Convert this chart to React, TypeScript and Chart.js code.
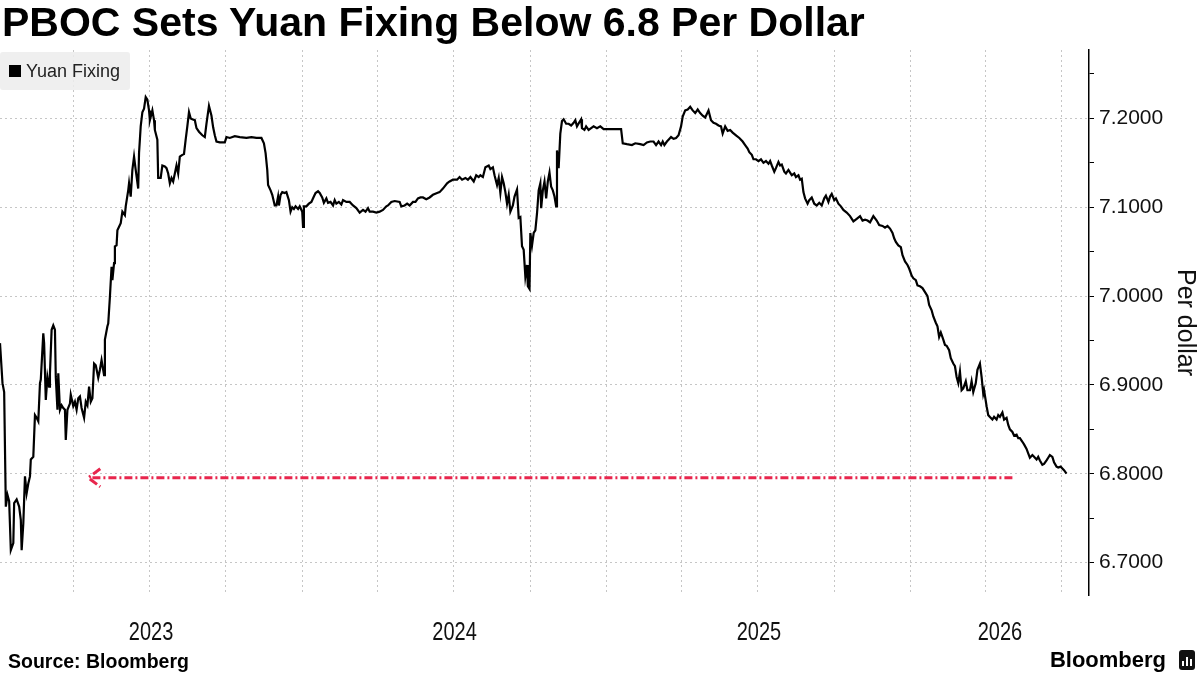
import React, { useEffect, useRef } from "react";
import { Chart, registerables } from "chart.js";

Chart.register(...registerables);

// USD/CNY daily fixing: [days since 2023-01-01, yuan per dollar]
const fixing2023: [number, number][] = [
  [2, 6.947], [5, 6.902], [7, 6.892], [9, 6.763], [11, 6.776], [13, 6.769], [15, 6.714], [18, 6.722],
  [19, 6.767], [22, 6.771], [25, 6.763], [27, 6.748], [28, 6.714], [30, 6.744], [32, 6.797], [34, 6.778],
  [36, 6.789], [38, 6.797], [39, 6.816], [42, 6.819], [44, 6.866], [46, 6.863], [48, 6.859], [50, 6.902],
  [51, 6.906], [54, 6.958], [55, 6.947], [57, 6.883], [59, 6.909], [61, 6.898], [62, 6.913], [64, 6.962],
  [66, 6.967], [68, 6.962], [69, 6.909], [71, 6.872], [72, 6.913], [74, 6.872], [76, 6.877], [78, 6.874],
  [80, 6.872], [81, 6.838], [83, 6.872], [86, 6.879], [87, 6.889], [90, 6.876], [92, 6.881], [94, 6.872],
  [96, 6.885], [98, 6.887], [100, 6.874], [103, 6.863], [105, 6.881], [107, 6.877], [109, 6.898], [111, 6.881],
  [113, 6.885], [115, 6.924], [117, 6.922], [120, 6.908], [122, 6.917], [124, 6.928], [127, 6.911], [128, 6.951],
  [131, 6.966], [132, 6.969], [134, 6.999], [136, 7.033], [137, 7.018], [139, 7.037], [140, 7.056], [142, 7.057],
  [143, 7.074], [145, 7.078], [147, 7.082], [149, 7.095], [152, 7.091], [153, 7.101], [156, 7.119], [157, 7.127],
  [159, 7.112], [161, 7.142], [163, 7.157], [165, 7.142], [168, 7.121], [169, 7.161], [171, 7.191], [173, 7.207],
  [175, 7.211], [177, 7.224], [179, 7.221], [181, 7.209], [182, 7.198], [185, 7.209], [187, 7.198], [188, 7.187],
  [191, 7.176], [192, 7.133], [195, 7.133], [197, 7.147], [200, 7.146], [202, 7.144], [204, 7.138], [206, 7.127],
  [208, 7.133], [210, 7.129], [212, 7.138], [214, 7.147], [216, 7.138], [218, 7.157], [221, 7.159], [223, 7.160],
  [225, 7.176], [227, 7.191], [229, 7.207], [231, 7.200], [233, 7.199], [236, 7.198], [238, 7.189], [241, 7.185],
  [245, 7.181], [248, 7.179], [250, 7.194], [253, 7.214], [256, 7.203], [258, 7.190], [260, 7.181], [262, 7.174],
  [266, 7.173], [272, 7.173], [274, 7.179], [278, 7.178], [284, 7.180], [290, 7.179], [298, 7.178], [304, 7.179],
  [310, 7.178], [316, 7.178], [319, 7.172], [321, 7.161], [323, 7.142], [324, 7.125], [327, 7.119], [329, 7.114],
  [332, 7.102], [334, 7.102], [336, 7.112], [337, 7.102], [339, 7.114], [341, 7.117], [344, 7.116], [346, 7.117],
  [349, 7.108], [351, 7.095], [353, 7.100], [355, 7.098], [357, 7.101], [360, 7.098], [362, 7.101],
];

const fixing2024: [number, number][] = [
  [365, 7.095], [366, 7.078], [367, 7.101], [370, 7.101], [373, 7.104], [376, 7.106], [379, 7.112], [381, 7.116],
  [384, 7.118], [386, 7.116], [389, 7.111], [391, 7.105], [394, 7.110], [396, 7.105], [399, 7.106], [402, 7.102],
  [404, 7.108], [406, 7.104], [409, 7.106], [412, 7.103], [414, 7.108], [418, 7.106], [422, 7.106], [426, 7.102],
  [430, 7.099], [434, 7.094], [438, 7.097], [441, 7.095], [444, 7.099], [446, 7.095], [450, 7.095], [454, 7.094],
  [458, 7.095], [462, 7.097], [466, 7.101], [468, 7.102], [472, 7.106], [476, 7.107], [482, 7.106], [484, 7.101],
  [488, 7.102], [491, 7.104], [494, 7.102], [498, 7.106], [501, 7.106], [504, 7.110], [507, 7.111], [510, 7.111],
  [514, 7.109], [518, 7.111], [522, 7.114], [527, 7.116], [530, 7.117], [534, 7.121], [539, 7.127], [542, 7.129],
  [546, 7.131], [551, 7.131], [554, 7.134], [557, 7.131], [561, 7.133], [564, 7.131], [567, 7.134], [571, 7.129],
  [574, 7.136], [577, 7.134], [579, 7.136], [582, 7.134], [585, 7.145], [589, 7.147], [591, 7.143], [594, 7.145],
  [596, 7.136], [599, 7.125], [601, 7.133], [603, 7.116], [605, 7.134], [607, 7.127], [609, 7.117], [611, 7.104],
  [613, 7.114], [615, 7.095], [618, 7.102], [620, 7.112], [623, 7.120], [625, 7.088], [627, 7.089], [629, 7.056],
  [631, 7.052], [633, 7.022], [635, 7.035], [636, 7.011], [638, 7.008], [639, 7.071], [641, 7.057], [643, 7.071],
  [645, 7.074], [647, 7.093], [649, 7.119], [651, 7.127], [652, 7.099], [654, 7.119], [656, 7.129], [658, 7.110],
  [660, 7.129], [662, 7.139], [664, 7.123], [666, 7.119], [668, 7.112], [670, 7.101], [671, 7.164], [673, 7.144],
  [675, 7.183], [677, 7.197], [679, 7.199], [682, 7.194], [685, 7.194], [688, 7.192], [691, 7.195], [693, 7.198],
  [695, 7.191], [698, 7.196], [700, 7.199], [701, 7.189], [704, 7.187], [706, 7.191], [709, 7.187], [712, 7.189],
  [715, 7.191], [719, 7.189], [723, 7.191], [727, 7.188],
];

const fixing2025: [number, number][] = [
  [731, 7.188], [737, 7.188], [743, 7.188], [748, 7.188], [750, 7.172], [755, 7.171], [761, 7.170], [765, 7.172],
  [771, 7.171], [775, 7.170], [779, 7.173], [783, 7.174], [787, 7.174], [790, 7.170], [793, 7.174], [796, 7.170],
  [798, 7.174], [800, 7.170], [803, 7.174], [805, 7.176], [808, 7.179], [811, 7.177], [814, 7.178], [817, 7.181],
  [820, 7.191], [822, 7.202], [825, 7.209], [828, 7.210], [831, 7.213], [834, 7.209], [837, 7.206], [840, 7.210],
  [843, 7.206], [846, 7.203], [849, 7.201], [851, 7.205], [853, 7.209], [856, 7.198], [859, 7.195], [862, 7.194],
  [865, 7.192], [868, 7.191], [870, 7.183], [873, 7.191], [876, 7.186], [879, 7.187], [882, 7.184], [886, 7.181],
  [890, 7.178], [894, 7.174], [897, 7.170], [900, 7.166], [902, 7.162], [905, 7.159], [907, 7.154], [910, 7.154],
  [913, 7.152], [916, 7.154], [919, 7.150], [922, 7.152], [925, 7.149], [927, 7.152], [929, 7.147], [932, 7.140],
  [934, 7.144], [937, 7.151], [939, 7.147], [941, 7.148], [944, 7.140], [946, 7.138], [949, 7.142], [951, 7.139],
  [953, 7.136], [956, 7.138], [958, 7.134], [961, 7.136], [963, 7.131], [965, 7.132], [967, 7.117], [969, 7.110],
  [972, 7.104], [974, 7.108], [977, 7.111], [980, 7.104], [983, 7.102], [986, 7.105], [989, 7.102], [992, 7.110],
  [994, 7.113], [997, 7.106], [999, 7.112], [1001, 7.115], [1004, 7.108], [1006, 7.110], [1009, 7.104], [1012, 7.101],
  [1015, 7.097], [1019, 7.094], [1023, 7.090], [1027, 7.084], [1031, 7.087], [1035, 7.090], [1038, 7.085], [1041, 7.086],
  [1044, 7.085], [1047, 7.083], [1051, 7.090], [1055, 7.085], [1058, 7.080], [1062, 7.079], [1065, 7.077], [1068, 7.079],
  [1071, 7.076], [1074, 7.071], [1076, 7.065], [1078, 7.061], [1081, 7.057], [1084, 7.055], [1086, 7.046], [1089, 7.039],
  [1092, 7.035], [1094, 7.031],
];

const fixing2026: [number, number][] = [
  [1097, 7.023], [1099, 7.020], [1102, 7.018], [1104, 7.012], [1107, 7.011], [1110, 7.009], [1114, 7.003], [1116, 7.000],
  [1118, 6.990], [1121, 6.984], [1123, 6.977], [1126, 6.970], [1128, 6.966], [1130, 6.954], [1132, 6.959], [1135, 6.951],
  [1137, 6.945], [1139, 6.944], [1142, 6.939], [1144, 6.930], [1147, 6.924], [1149, 6.921], [1151, 6.909], [1153, 6.902],
  [1155, 6.915], [1157, 6.894], [1159, 6.896], [1162, 6.904], [1164, 6.894], [1167, 6.894], [1169, 6.904], [1171, 6.892],
  [1174, 6.902], [1176, 6.917], [1179, 6.924], [1181, 6.909], [1183, 6.890], [1184, 6.894], [1187, 6.876], [1189, 6.866],
  [1191, 6.864], [1194, 6.861], [1196, 6.864], [1199, 6.861], [1201, 6.866], [1203, 6.864], [1206, 6.869], [1208, 6.861],
  [1211, 6.863], [1213, 6.855], [1215, 6.850], [1218, 6.847], [1220, 6.843], [1223, 6.844], [1225, 6.840], [1227, 6.840],
  [1230, 6.836], [1232, 6.833], [1235, 6.828], [1237, 6.823], [1239, 6.818], [1242, 6.821], [1244, 6.819], [1247, 6.816],
  [1249, 6.819], [1251, 6.815], [1254, 6.810], [1256, 6.811], [1259, 6.815], [1261, 6.818], [1263, 6.821], [1266, 6.819],
  [1268, 6.813], [1271, 6.808], [1273, 6.807], [1276, 6.808], [1278, 6.806], [1280, 6.804], [1283, 6.800],
];

const quarterStartDates = [
  "2023-04-01", "2023-07-01", "2023-10-01", "2024-01-01", "2024-04-01", "2024-07-01", "2024-10-01",
  "2025-01-01", "2025-04-01", "2025-07-01", "2025-10-01", "2026-01-01", "2026-04-01", "2026-07-01",
];
const yearLabels = ["2023", "2024", "2025", "2026"];
const axisStartDate = "2023-01-03";
const axisEndDate = "2026-08-03";
const yAxisMin = 6.6635;
const yAxisMax = 7.277;
const yTickStep = 0.05;
const arrowLevel = 6.7955;
const arrowTipDate = "2023-04-19";
const arrowTailDate = "2026-05-03";

const TITLE = "PBOC Sets Yuan Fixing Below 6.8 Per Dollar";
const SERIES_NAME = "Yuan Fixing";
const Y_TITLE = "Per dollar";
const SOURCE = "Source: Bloomberg";
const BRAND = "Bloomberg";

const SANS = "'Liberation Sans', Arial, sans-serif";

const BASE = Date.UTC(2023, 0, 1);
const dayOf = (s: string) => {
  const [y, m, d] = s.split("-").map(Number);
  return (Date.UTC(y, m - 1, d) - BASE) / 86400000;
};

const isMajor = (v: number) => Math.abs(v * 10 - Math.round(v * 10)) < 1e-6;

export default function App() {
  const canvasRef = useRef<HTMLCanvasElement | null>(null);

  useEffect(() => {
    const canvas = canvasRef.current;
    if (!canvas) return;
    const xMin = dayOf(axisStartDate);
    const xMax = dayOf(axisEndDate);
    const quarterDays = quarterStartDates.map(dayOf);
    const yearMids = yearLabels.map((y) => {
      const s = Math.max(xMin, dayOf(`${y}-01-01`));
      const e = Math.min(xMax, dayOf(`${Number(y) + 1}-01-01`));
      return (s + e) / 2;
    });
    const points = [...fixing2023, ...fixing2024, ...fixing2025, ...fixing2026].map(([x, y]) => ({ x, y }));

    const arrowPlugin = {
      id: "arrowAnnotation",
      afterDatasetsDraw(chart: any) {
        const { ctx, scales } = chart;
        const xs = scales.x;
        const ys = scales.y;
        const x0 = xs.getPixelForValue(dayOf(arrowTipDate));
        const x1 = xs.getPixelForValue(dayOf(arrowTailDate));
        const y = ys.getPixelForValue(arrowLevel);
        ctx.save();
        ctx.strokeStyle = "#e8264d";
        ctx.lineWidth = 3;
        ctx.lineCap = "butt";
        ctx.setLineDash([8, 3, 2, 3]);
        ctx.beginPath();
        ctx.moveTo(x1, y);
        ctx.lineTo(x0 + 1, y);
        ctx.stroke();
        ctx.setLineDash([9, 3, 2, 3]);
        ctx.beginPath();
        ctx.moveTo(x0 + 12, y - 9);
        ctx.lineTo(x0, y);
        ctx.lineTo(x0 + 12, y + 9);
        ctx.stroke();
        ctx.restore();
      },
    };

    // year labels are set in a condensed face: draw them horizontally compressed at the axis tick positions
    const yearLabelPlugin = {
      id: "yearLabels",
      afterDraw(chart: any) {
        const { ctx } = chart;
        const sc = chart.scales.xYears;
        ctx.save();
        ctx.fillStyle = "#111";
        ctx.font = `25px ${SANS}`;
        ctx.textAlign = "center";
        ctx.textBaseline = "middle";
        sc.ticks.forEach((t: any, i: number) => {
          const x = sc.getPixelForValue(t.value);
          ctx.save();
          ctx.translate(x, sc.top + 38);
          ctx.scale(0.8, 1);
          ctx.fillText(yearLabels[i], 0, 0);
          ctx.restore();
        });
        ctx.restore();
      },
    };

    const chart = new Chart(canvas, {
      type: "line",
      data: {
        datasets: [
          {
            label: SERIES_NAME,
            data: points,
            borderColor: "#000",
            borderWidth: 2.2,
            pointRadius: 0,
            tension: 0,
            fill: false,
            xAxisID: "x",
            yAxisID: "y",
          },
        ],
      },
      options: {
        animation: false,
        responsive: false,
        maintainAspectRatio: false,
        layout: { padding: { top: 50, left: 0, right: 0, bottom: 0 } },
        plugins: { legend: { display: false }, tooltip: { enabled: false }, title: { display: false } },
        scales: {
          x: {
            type: "linear",
            position: "bottom",
            min: xMin,
            max: xMax,
            afterBuildTicks: (s: any) => {
              s.ticks = quarterDays.map((v) => ({ value: v }));
            },
            ticks: { display: false },
            grid: { color: "#c6c6c6", lineWidth: 1, drawTicks: false },
            border: { display: false, dash: [2, 3] },
            afterFit: (s: any) => {
              s.height = 0;
            },
          },
          xYears: {
            type: "linear",
            position: "bottom",
            min: xMin,
            max: xMax,
            afterBuildTicks: (s: any) => {
              s.ticks = yearMids.map((v) => ({ value: v }));
            },
            ticks: { display: false, autoSkip: false },
            grid: { display: false, drawTicks: false },
            border: { display: false },
            afterFit: (s: any) => {
              s.height = 80;
            },
          },
          y: {
            type: "linear",
            position: "right",
            min: yAxisMin,
            max: yAxisMax,
            ticks: {
              stepSize: yTickStep,
              includeBounds: false,
              callback: (v: any) => (isMajor(Number(v)) ? Number(v).toFixed(4) : ""),
              font: { family: SANS, size: 21 },
              color: "#111",
              padding: 5,
            },
            grid: {
              color: (c: any) => (c.tick && isMajor(c.tick.value) ? "#c6c6c6" : "rgba(0,0,0,0)"),
              tickColor: "#000",
              tickLength: 5,
              tickWidth: 1,
              lineWidth: 1,
              drawTicks: true,
            },
            border: { display: true, color: "#000", width: 1.5, dash: [2, 3] },
            title: {
              display: true,
              text: Y_TITLE,
              font: { family: SANS, size: 25 },
              color: "#111",
              padding: 0,
            },
            afterFit: (s: any) => {
              s.width = 111;
            },
          },
        },
      } as any,
      plugins: [arrowPlugin, yearLabelPlugin],
    });
    return () => chart.destroy();
  }, []);

  return (
    <div
      style={{
        position: "fixed",
        left: 0,
        top: 0,
        width: 1200,
        height: 675,
        background: "#fff",
        overflow: "hidden",
        fontFamily: SANS,
      }}
    >
      <canvas ref={canvasRef} width={1200} height={675} style={{ position: "absolute", left: 0, top: 0, width: 1200, height: 675 }} />
      <div
        style={{
          position: "absolute",
          left: 2,
          top: 2,
          fontSize: 41,
          lineHeight: "41px",
          fontWeight: 700,
          color: "#000",
          whiteSpace: "nowrap",
        }}
      >
        {TITLE}
      </div>
      <div
        style={{
          position: "absolute",
          left: 0,
          top: 52,
          width: 130,
          height: 38,
          background: "rgba(236,236,236,0.85)",
          borderRadius: 3,
          display: "flex",
          alignItems: "center",
        }}
      >
        <span style={{ display: "inline-block", width: 12, height: 12, background: "#000", marginLeft: 9, marginRight: 5 }} />
        <span style={{ fontSize: 18, color: "#222", whiteSpace: "nowrap" }}>{SERIES_NAME}</span>
      </div>
      <div
        style={{
          position: "absolute",
          left: 8,
          top: 650,
          fontSize: 19.5,
          lineHeight: "22px",
          fontWeight: 700,
          color: "#000",
          whiteSpace: "nowrap",
        }}
      >
        {SOURCE}
      </div>
      <div
        style={{
          position: "absolute",
          right: 34,
          top: 647,
          fontSize: 22,
          lineHeight: "26px",
          fontWeight: 700,
          color: "#000",
          whiteSpace: "nowrap",
        }}
      >
        {BRAND}
      </div>
      <div
        style={{
          position: "absolute",
          left: 1179,
          top: 650,
          width: 16,
          height: 20,
          background: "#111",
          borderRadius: 3,
          display: "flex",
          alignItems: "flex-end",
          justifyContent: "center",
          gap: 2,
          paddingBottom: 4,
          boxSizing: "border-box",
        }}
      >
        <span style={{ width: 2, height: 5, background: "#fff" }} />
        <span style={{ width: 2, height: 9, background: "#fff" }} />
        <span style={{ width: 2, height: 7, background: "#fff" }} />
      </div>
    </div>
  );
}
